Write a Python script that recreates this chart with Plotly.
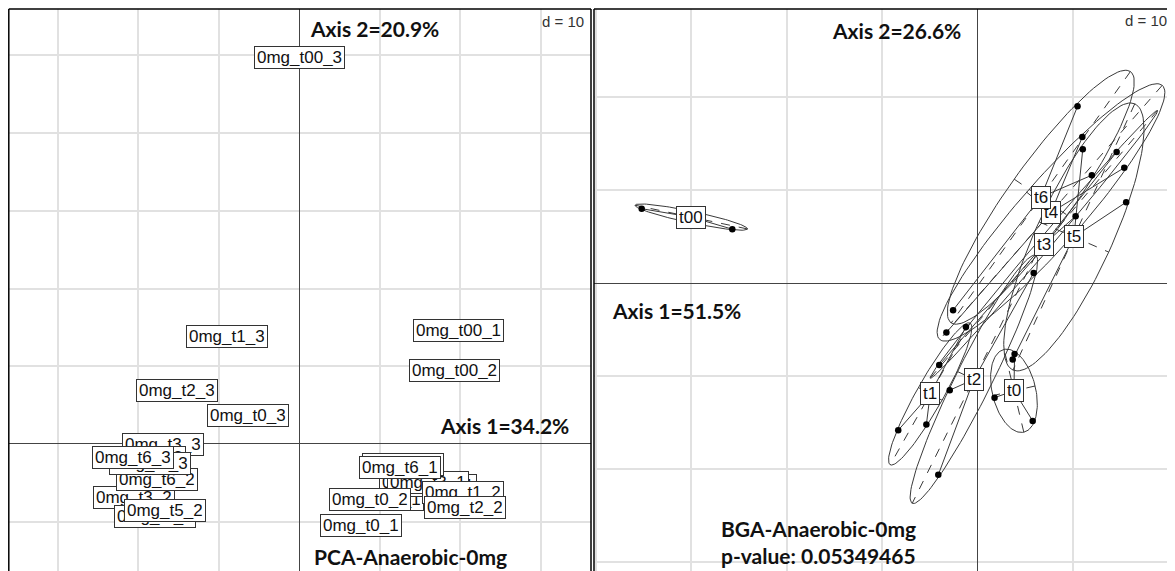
import numpy as np
import plotly.graph_objects as go

# ---- PCA (left panel): sample labels in drawing order, axis 1 / axis 2 scores ----
pca_labels = ["0mg_t00_1", "0mg_t00_2", "0mg_t00_3",
              "0mg_t0_1", "0mg_t1_1", "0mg_t2_1", "0mg_t4_1", "0mg_t3_1", "0mg_t5_1", "0mg_t6_1",
              "0mg_t0_2", "0mg_t1_2", "0mg_t2_2", "0mg_t3_2", "0mg_t4_2", "0mg_t5_2", "0mg_t6_2",
              "0mg_t0_3", "0mg_t1_3", "0mg_t2_3", "0mg_t3_3", "0mg_t4_3", "0mg_t5_3", "0mg_t6_3"]
pca_x = [19.75, 19.3, 0.1,
         7.7, 10.4, 15.0, 17.0, 16.0, 12.9, 12.6,
         8.8, 20.4, 20.6, -20.5, -17.9, -16.7, -17.6,
         -6.3, -8.9, -15.1, -16.9, -19.1, -18.5, -20.6]
pca_y = [14.6, 9.4, 49.8,
         -10.5, -7.1, -5.0, -5.4, -5.0, -2.7, -3.0,
         -7.1, -6.3, -8.2, -6.9, -9.3, -8.6, -4.6,
         3.7, 13.8, 6.9, -0.1, -1.7, -2.5, -1.8]

# ---- BGA (right panel): group of each sample and its scores ----
bga_groups = ["t00", "t0", "t1", "t2", "t3", "t4", "t5", "t6"]
bga_group = ["t00"] * 3 + ["t0"] * 3 + ["t1"] * 3 + ["t2"] * 3 + ["t3"] * 3 + ["t4"] * 3 + ["t5"] * 3 + ["t6"] * 3
bga_x = [-35.2, -29.1, -25.7,
         1.8, 5.8, 3.9,
         -8.3, -5.35, -1.2,
         -2.9, -4.1, 5.9,
         -4.0, 10.3, 14.6,
         -3.25, 11.0, 15.4,
         3.7, 15.6, 11.05,
         -2.55, 10.5, 12.0]
bga_y = [8.0, 7.5, 5.8,
         -12.3, -14.8, -7.6,
         -15.8, -15.2, -4.7,
         -11.5, -20.6, 1.1,
         -8.8, 7.2, 14.1,
         -5.3, 15.7, 12.4,
         -8.2, 8.7, 14.4,
         -2.9, 19.0, 11.6]

LINE = "#3a3a3a"
GRID = "#e1e1e1"
LABEL_FONT = dict(family="Liberation Sans, Arial, sans-serif", size=17, color="#111")
BOLD_FONT = dict(family="Lato, Open Sans, sans-serif", size=21, color="#111")

# page body has an 8px margin, so the figure is drawn 8px in from the corner
W, H = 1167, 563

fig = go.Figure()

# left panel anchor trace (labels sit on top of the points)
fig.add_trace(go.Scatter(x=pca_x, y=pca_y, mode="markers",
                         marker=dict(size=2, color="rgba(0,0,0,0)"),
                         xaxis="x", yaxis="y", hoverinfo="skip"))

bx = np.array(bga_x)
by = np.array(bga_y)
gr = np.array(bga_group)
centres = {}
for g in bga_groups:
    px = bx[gr == g]
    py = by[gr == g]
    mx, my = px.mean(), py.mean()
    centres[g] = (mx, my)
    vx = ((px - mx) ** 2).mean()
    vy = ((py - my) ** 2).mean()
    cxy = ((px - mx) * (py - my)).mean()
    # ellipse as in ade4 s.class (cellipse = 1.5)
    delta = np.sqrt((vx - vy) ** 2 + 4 * cxy * cxy)
    l1 = (vx + vy + delta) / 2
    l2 = max(vx + vy - l1, 0)
    l1, l2 = np.sqrt(l1), np.sqrt(l2)
    a0, b0 = 1.0, (l1 * l1 - vx) / cxy
    nrm = np.hypot(a0, b0)
    a0, b0 = a0 / nrm, b0 / nrm
    k = 1.5
    c11, c12 = k * a0 * l1, -k * b0 * l2
    c21, c22 = k * b0 * l1, k * a0 * l2
    t = np.linspace(0, 2 * np.pi, 121)
    ex = mx + c11 * np.cos(t) + c12 * np.sin(t)
    ey = my + c21 * np.cos(t) + c22 * np.sin(t)
    fig.add_trace(go.Scatter(x=ex, y=ey, mode="lines", line=dict(color=LINE, width=1),
                             xaxis="x2", yaxis="y2", hoverinfo="skip"))
    fig.add_trace(go.Scatter(x=[mx + c11, mx - c11, None, mx + c12, mx - c12],
                             y=[my + c21, my - c21, None, my + c22, my - c22],
                             mode="lines", line=dict(color=LINE, width=1, dash="dash"),
                             xaxis="x2", yaxis="y2", hoverinfo="skip"))
    sx, sy = [], []
    for a, b in zip(px, py):
        sx += [mx, a, None]
        sy += [my, b, None]
    fig.add_trace(go.Scatter(x=sx, y=sy, mode="lines", line=dict(color=LINE, width=1),
                             xaxis="x2", yaxis="y2", hoverinfo="skip"))

fig.add_trace(go.Scatter(x=bga_x, y=bga_y, mode="markers",
                         marker=dict(size=6.5, color="black"),
                         xaxis="x2", yaxis="y2", hoverinfo="skip"))

annotations = []
for lab, x, y in zip(pca_labels, pca_x, pca_y):
    annotations.append(dict(x=x, y=y, xref="x", yref="y", text=lab, showarrow=False,
                            font=LABEL_FONT, bgcolor="white", bordercolor="#333",
                            borderwidth=1, borderpad=2, height=17))
for g in bga_groups:
    mx, my = centres[g]
    annotations.append(dict(x=mx, y=my, xref="x2", yref="y2", text=g, showarrow=False,
                            font=LABEL_FONT, bgcolor="white", bordercolor="#333",
                            borderwidth=1, borderpad=2, height=17))

texts = [
    ("x", "y", 9.4, 53.5, "<b>Axis 2=20.9%</b>", "center"),
    ("x", "y", 25.5, 2.4, "<b>Axis 1=34.2%</b>", "center"),
    ("x", "y", 13.8, -14.5, "<b>PCA-Anaerobic-0mg</b>", "center"),
    ("x2", "y2", -8.5, 27.2, "<b>Axis 2=26.6%</b>", "center"),
    ("x2", "y2", -31.5, -2.9, "<b>Axis 1=51.5%</b>", "center"),
    ("x2", "y2", -27.1, -26.4, "<b>BGA-Anaerobic-0mg</b>", "left"),
    ("x2", "y2", -27.1, -29.3, "<b>p-value: 0.05349465</b>", "left"),
]
for xr, yr, x, y, txt, anc in texts:
    annotations.append(dict(x=x, y=y, xref=xr, yref=yr, text=txt, showarrow=False,
                            font=BOLD_FONT, xanchor=anc))
annotations.append(dict(x=35.65, y=54.4, xref="x", yref="y", text="d = 10", showarrow=False,
                        xanchor="right", font=dict(family="Liberation Sans, Arial", size=15, color="#333")))
annotations.append(dict(x=20.05, y=28.2, xref="x2", yref="y2", text="d = 10", showarrow=False,
                        xanchor="right", font=dict(family="Liberation Sans, Arial", size=15, color="#333")))

shapes = []
for xd, yd in [("x domain", "y domain"), ("x2 domain", "y2 domain")]:
    for x0, y0, x1, y1 in [(0, 0, 0, 1), (0, 1, 1, 1), (1, 0, 1, 1)]:
        shapes.append(dict(type="line", xref=xd, yref=yd, x0=x0, y0=y0, x1=x1, y1=y1,
                           line=dict(color="black", width=1.5)))

ax = dict(showticklabels=False, ticks="", showgrid=True, gridcolor=GRID, gridwidth=1.5,
          dtick=10, tick0=0, zeroline=True, zerolinecolor="#444", zerolinewidth=1.2,
          showline=False, fixedrange=True)
top = 1 - 1 / H
fig.update_layout(
    width=W, height=H, margin=dict(l=0, r=0, t=0, b=0),
    paper_bgcolor="white", plot_bgcolor="white", showlegend=False,
    xaxis=dict(ax, domain=[0.8 / W, 583 / W], range=[-36.05, 36.27], anchor="y"),
    yaxis=dict(ax, domain=[0, top], range=[-16.35, 55.98], anchor="x"),
    xaxis2=dict(ax, domain=[586 / W, 1163 / W], range=[-40.2, 20.3], anchor="y2"),
    yaxis2=dict(ax, domain=[0, top], range=[-30.93, 29.46], anchor="x2"),
    annotations=annotations, shapes=shapes,
)

fig.write_html("out.html")
